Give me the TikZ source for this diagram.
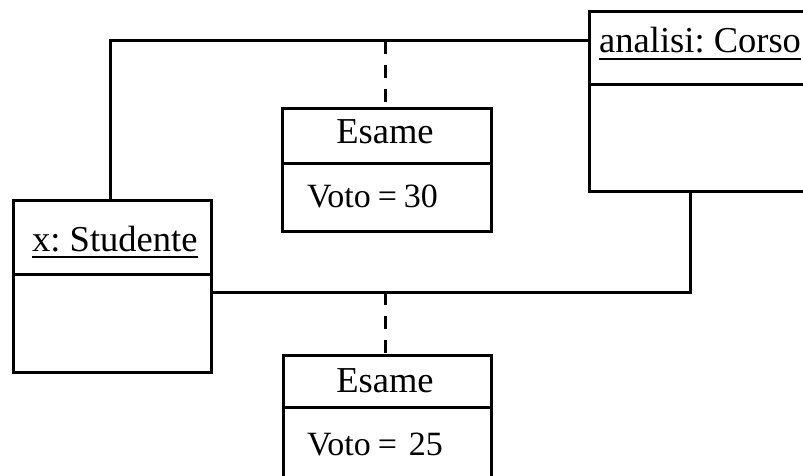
\documentclass[tikz,border=0pt]{standalone}
\usepackage{fontspec}
\setmainfont{Liberation Serif}
\begin{document}
\frenchspacing
\begin{tikzpicture}[x=1pt,y=1pt,
  box/.style={draw,line width=3pt,rectangle,inner sep=0pt,anchor=north west},
  lnk/.style={line width=3pt},
  dlnk/.style={line width=3pt,dash pattern=on 13pt off 11pt},
  txt/.style={inner sep=0pt,font=\fontsize{36.5}{40}\selectfont},
  vtxt/.style={inner sep=0pt,font=\fontsize{34}{38}\selectfont}]
\useasboundingbox (0,0) rectangle (803,475);
\clip (0,0) rectangle (803,475);
% boxes
\node[box,minimum width=222pt,minimum height=180pt] (corso) at (588,465) {};
\node[box,minimum width=198pt,minimum height=172pt] (stud) at (12,276) {};
\node[box,minimum width=209pt,minimum height=123pt] (esA) at (281,368) {};
\node[box,minimum width=208pt,minimum height=140pt] (esB) at (282,121) {};
% dividers
\draw[lnk] (corso.west |- 0,390) -- (corso.east |- 0,390);
\draw[lnk] (stud.west |- 0,201) -- (stud.east |- 0,201);
\draw[lnk] (esA.west |- 0,312) -- (esA.east |- 0,312);
\draw[lnk] (esB.west |- 0,68) -- (esB.east |- 0,68);
% texts
\node[txt,anchor=base west] (tc) at (599,422) {analisi: Corso};
\draw[line width=1.5pt] ([yshift=-6pt]tc.base west) -- ([yshift=-6pt]tc.base east);
\node[txt,anchor=base west] (ts) at (32,224) {x: Studente};
\draw[line width=1.5pt] ([yshift=-6pt]ts.base west) -- ([yshift=-6pt]ts.base east);
\node[txt,anchor=base] (ta) at (385,332) {Esame};
\node[vtxt,anchor=base west] (va) at (307,268) {Voto\hspace{7pt}=\hspace{7pt}30};
\node[txt,anchor=base] (tb) at (385,83) {Esame};
\node[vtxt,anchor=base west] (vb) at (307,20) {Voto\hspace{7pt}=\hspace{12pt}25};
% connectors
\coordinate (c1) at (110,434);
\coordinate (c2) at (690,183);
\coordinate (m1) at (385,434);
\coordinate (m2) at (385,183);
\draw[lnk] (stud.north -| c1) -- (c1) -- (c1 -| corso.west);
\draw[lnk] (c2 -| stud.east) -- (c2) -- (c2 |- corso.south);
\draw[dlnk] (m1) -- (esA.north -| m1);
\draw[dlnk] (m2) -- (esB.north -| m2);
\end{tikzpicture}
\end{document}
